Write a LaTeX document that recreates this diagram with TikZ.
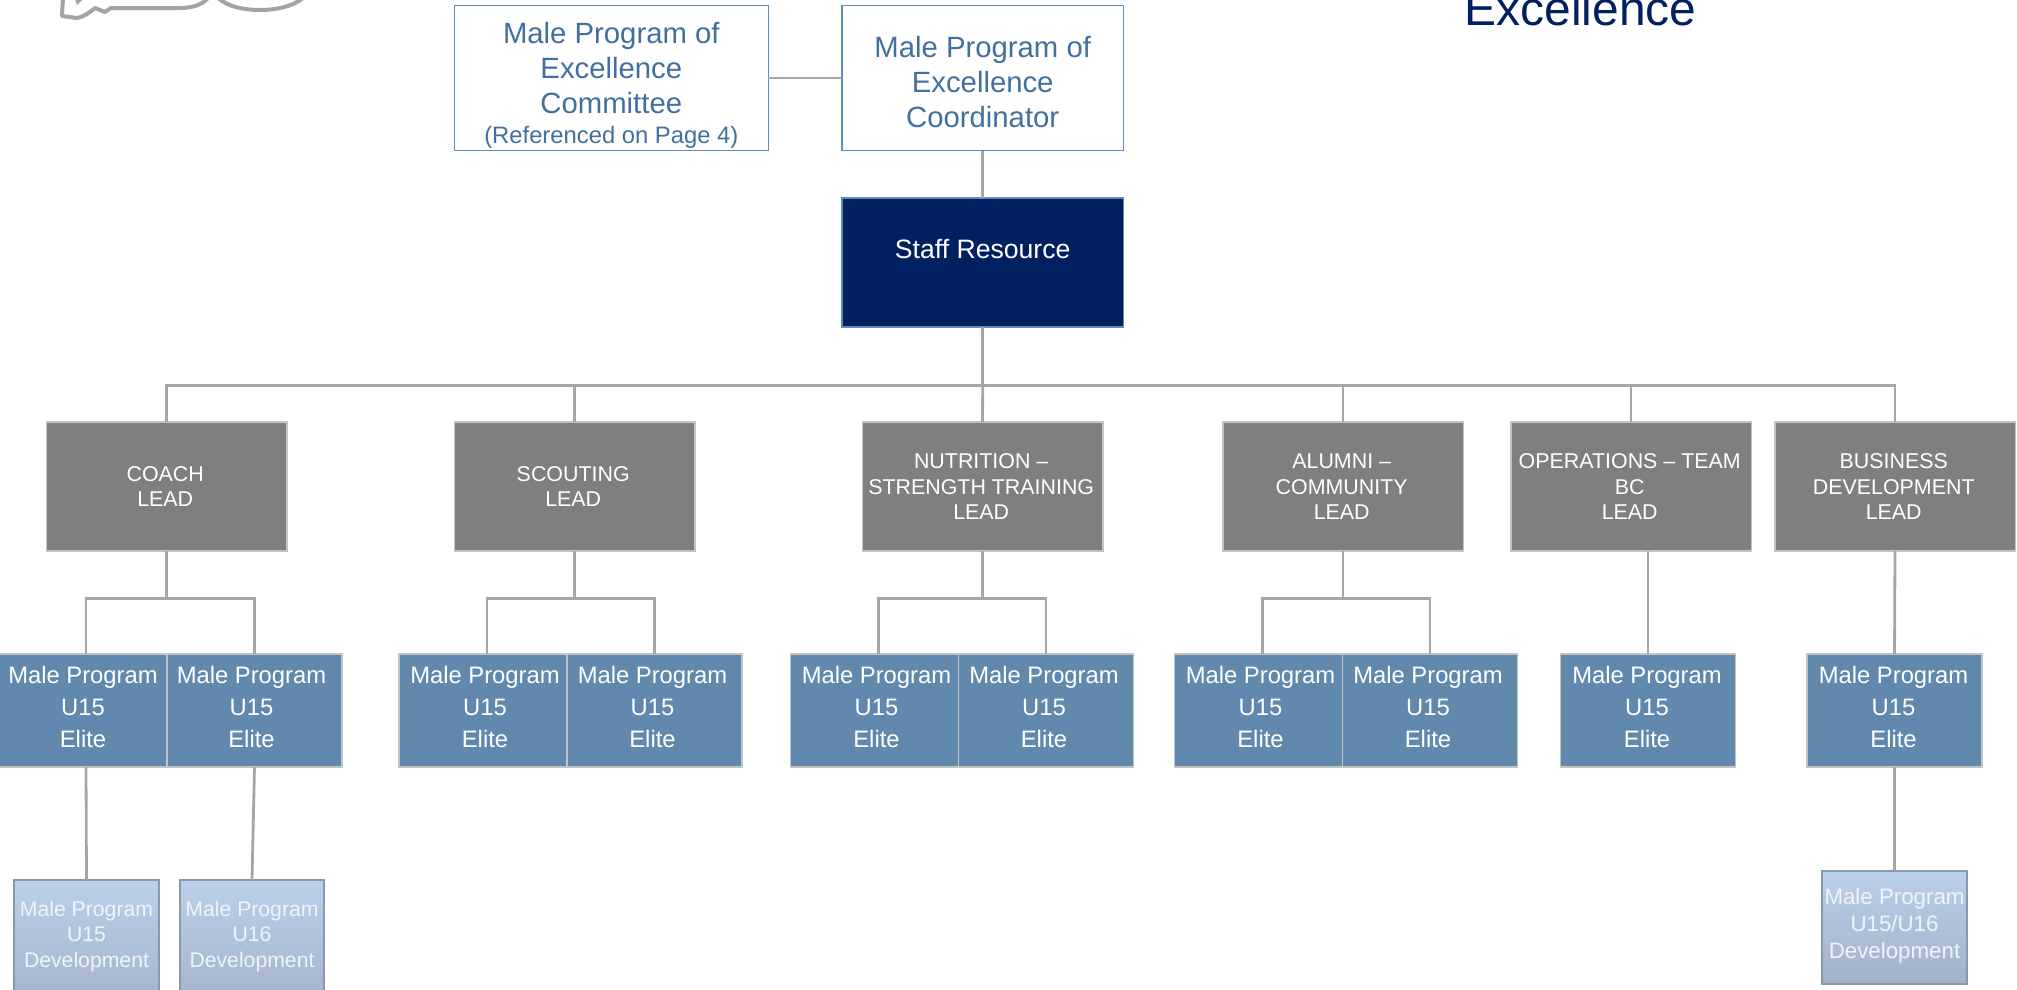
\documentclass[tikz,border=0pt]{standalone}
\usepackage{fontspec}
\usetikzlibrary{calc}
\setmainfont{Liberation Sans}
\definecolor{navy}{HTML}{002060}
\definecolor{outl}{HTML}{5F8DB8}
\definecolor{txtb}{HTML}{41709F}
\definecolor{conn}{HTML}{A6A6A6}
\definecolor{lead}{HTML}{7F7F7F}
\definecolor{bord}{HTML}{C4C4C4}
\definecolor{blu}{HTML}{6189AE}
\definecolor{devt}{HTML}{BCD0E9}
\definecolor{devb}{HTML}{A2B1C9}
\definecolor{devl}{HTML}{8799B1}
\definecolor{devx}{HTML}{F0F4FA}
\definecolor{logo}{HTML}{A5A39D}
\tikzset{
  x=1pt,y=-1pt,
  boxbase/.style={rectangle,inner sep=0pt,outer sep=0pt,align=center,text centered},
  topbox/.style={boxbase,draw=outl,line width=1.4pt,fill=white,text=txtb,minimum height=145pt,font=\fontsize{29.3}{35}\selectfont},
  staffbox/.style={boxbase,draw=outl,line width=1.4pt,fill=navy,text=white,minimum width=281.5pt,minimum height=129pt,font=\fontsize{26.6}{32}\selectfont},
  leadbox/.style={boxbase,draw=bord,line width=1.5pt,fill=lead,text=white,minimum width=240.5pt,minimum height=129pt,font=\fontsize{21.4}{25.6}\selectfont},
  elite/.style={boxbase,draw=bord,line width=1.5pt,fill=blu,text=white,minimum height=113pt,font=\fontsize{23.8}{32}\selectfont},
  devbox/.style={boxbase,draw=devl,line width=2pt,top color=devt,bottom color=devb,text=devx},
  wire/.style={draw=conn,line width=2.8pt},
  logoline/.style={draw=logo,line width=4pt,line join=round}
}
\newcommand{\eliteText}[2]{\hspace*{#1}\begin{tabular}{@{}c@{}}Male Program\\U15\\Elite\\[-28.6pt]\mbox{}\end{tabular}\hspace*{#2}}
\newcommand{\leadText}[1]{\begin{tabular}{@{}c@{}}\rule{0pt}{23pt}#1\end{tabular}\hspace*{2.6pt}}
\begin{document}
\begin{tikzpicture}
\useasboundingbox (0,0) rectangle (2017,989);
\clip (0,0) rectangle (2017,989);
% logo fragment
\draw[logoline] (63,-2) -- (62,16) -- (77,18) .. controls (84,17) and (90,12) .. (95,8) -- (105,12) -- (111,8) -- (180,8) .. controls (192,8) and (202,5) .. (208,-2);
\draw[logoline] (218,-2) .. controls (228,7) and (245,10) .. (260,10) .. controls (275,10) and (292,7) .. (303,-2);
\fill[logo] (75,-1) -- (83,-1) -- (77,5) -- cycle;
% title
\node[anchor=base,text=navy,font=\fontsize{47.9}{50}\selectfont,inner sep=0pt] (title) at (1580.5,25) {Excellence};
% top
\node[topbox,minimum width=314pt] (committee) at (611.3,78) {\rule{0pt}{35.5pt}Male Program of\\Excellence\\Committee\\[-5pt]{\fontsize{23.8}{30}\selectfont (Referenced on Page 4)}};
\node[topbox,minimum width=281.5pt] (coord) at (982.7,78) {\rule{0pt}{29.5pt}Male Program of\\Excellence\\Coordinator};
\node[staffbox] (staff) at (982.7,262.5) {Staff Resource\\[-4pt]\mbox{}};
% leads
\node[leadbox] (l1) at (166.5,486.5) {\leadText{COACH\\LEAD}};
\node[leadbox] (l2) at (574.5,486.5) {\leadText{SCOUTING\\LEAD}};
\node[leadbox] (l3) at (982.5,486.5) {\leadText{NUTRITION –\\STRENGTH TRAINING\\LEAD}};
\node[leadbox] (l4) at (1343,486.5) {\leadText{ALUMNI –\\COMMUNITY\\LEAD}};
\node[leadbox] (l5) at (1631,486.5) {\leadText{OPERATIONS – TEAM\\BC\\LEAD}};
\node[leadbox] (l6) at (1895,486.5) {\leadText{BUSINESS\\DEVELOPMENT\\LEAD}};
% elite boxes
\node[elite,minimum width=168pt] (a1) at (83,710.7) {\eliteText{0pt}{0pt}};
\node[elite,minimum width=175pt] (a2) at (254.5,710.7) {\eliteText{0pt}{6pt}};
\node[elite,minimum width=168pt] (b1) at (483,710.7) {\eliteText{4pt}{0pt}};
\node[elite,minimum width=175pt] (b2) at (654.5,710.7) {\eliteText{0pt}{4pt}};
\node[elite,minimum width=168pt] (c1) at (874.5,710.7) {\eliteText{4pt}{0pt}};
\node[elite,minimum width=175pt] (c2) at (1046,710.7) {\eliteText{0pt}{4pt}};
\node[elite,minimum width=168pt] (d1) at (1258.5,710.7) {\eliteText{4pt}{0pt}};
\node[elite,minimum width=175pt] (d2) at (1430,710.7) {\eliteText{0pt}{4pt}};
\node[elite,minimum width=175pt] (e1) at (1648,710.7) {\eliteText{0pt}{2pt}};
\node[elite,minimum width=175pt] (f1) at (1894.5,710.7) {\eliteText{0pt}{2pt}};
% development
\node[devbox,minimum width=145pt,minimum height=132pt,font=\fontsize{21.2}{25.5}\selectfont] (g1) at (86.5,946) {Male Program\\U15\\Development\\[-1.5pt]\mbox{}};
\node[devbox,minimum width=144pt,minimum height=132pt,font=\fontsize{21.2}{25.5}\selectfont] (g2) at (252,946) {Male Program\\U16\\Development\\[-1.5pt]\mbox{}};
\node[devbox,minimum width=145pt,minimum height=113pt,font=\fontsize{22.3}{27}\selectfont] (g3) at (1894.5,927) {Male Program\\U15/U16\\Development\\[-19.5pt]\mbox{}};
% connectors
\coordinate (bus) at (982.7,385.5);
\draw[wire] (committee.east) -- (coord.west);
\draw[wire] (coord.south) -- (staff.north);
\draw[wire] (staff.south) -- (bus);
\draw[wire] (bus) -| (l1.north);
\draw[wire] (bus) -| (l2.north);
\draw[wire] (bus) -- (l3.north);
\draw[wire] (bus) -| (l4.north);
\draw[wire] (bus) -| (l5.north);
\draw[wire] (bus) -| (l6.north);
\foreach \l/\p/\q/\off in {l1/a1/a2/3,l2/b1/b2/4,l3/c1/c2/4,l4/d1/d2/4}{
  \coordinate (j\l) at ($(\l.south)+(0,47.5)$);
  \draw[wire] (\l.south) -- (j\l);
  \draw[wire] (j\l) -| ([xshift=\off pt]\p.north);
  \draw[wire] (j\l) -| (\q.north);
}
\draw[wire] (e1.north |- l5.south) -- (e1.north);
\draw[wire] (l6.south) -- (f1.north);
\draw[wire] ([xshift=3pt]a1.south) -- (g1.north);
\draw[wire] (a2.south) -- (g2.north);
\draw[wire] (f1.south) -- (g3.north);
\end{tikzpicture}
\end{document}
